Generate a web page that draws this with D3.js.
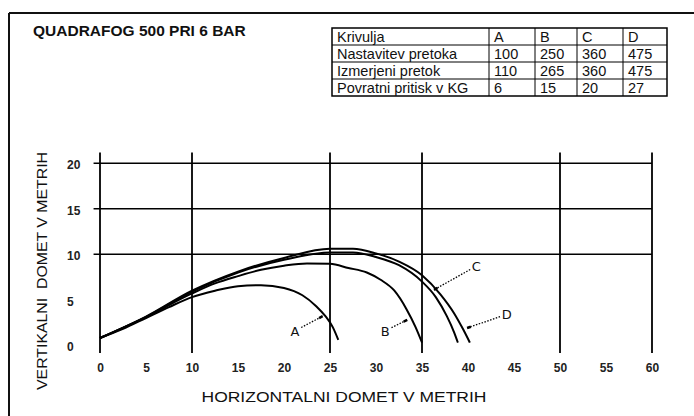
<!DOCTYPE html>
<html>
<head>
<meta charset="utf-8">
<script src="https://cdn.jsdelivr.net/npm/d3@7"></script>
<style>
  html, body { margin: 0; padding: 0; background: #fff; }
  svg { display: block; font-family: "Liberation Sans", Arial, sans-serif; }
</style>
</head>
<body>
<div id="chart"></div>
<script>
// table data
var krivulje = ['A', 'B', 'C', 'D'];
var nastavitev = [100, 250, 360, 475];
var izmerjeni = [110, 265, 360, 475];
var povratni = [6, 15, 20, 27];

// grid and ticks
var xTicks = [0, 5, 10, 15, 20, 25, 30, 35, 40, 45, 50, 55, 60];
var yTicks = [0, 5, 10, 15, 20];
var xGrid = [0, 10, 25, 35, 50, 60];
var yGrid = [10, 15, 20];

// curves: [horizontal m, vertical m]
var curveA = [[0, 0.8], [2.5, 1.8], [5, 3.0], [7.5, 4.2], [10, 5.3], [12.5, 6.0], [15, 6.5], [17.5, 6.6],
    [20, 6.3], [22, 5.5], [23.5, 4.3], [24.5, 3.2], [25.3, 2.0], [25.9, 0.6]];
var curveB = [[0, 0.8], [5, 3.1], [10, 5.7], [12.5, 6.8], [15, 7.6], [17.5, 8.3], [20, 8.75], [22.5, 9.0],
    [25, 8.95], [27, 8.5], [29, 8.0], [30.5, 7.2], [32, 6.0], [33.3, 4.0], [34.3, 2.0], [35, 0.3]];
var curveC = [[0, 0.8], [5, 3.1], [10, 5.9], [15, 8.0], [20, 9.4], [25, 10.2], [27.5, 10.2], [30, 9.7],
    [32.5, 8.8], [35, 7.0], [36.5, 5.3], [37.7, 3.2], [38.5, 1.4], [38.9, 0.3]];
var curveD = [[0, 0.8], [5, 3.15], [10, 6.0], [15, 8.1], [20, 9.6], [25, 10.6], [27.5, 10.6], [30, 10.1],
    [32.5, 9.2], [35, 7.7], [37, 5.6], [38.5, 3.5], [39.5, 1.7], [40.2, 0.3]];

// curve labels: letter position and the point the leader touches
var labelNames = ['A', 'B', 'C', 'D'];
var labelText = [[21.2, 1.6], [31.0, 1.6], [40.9, 8.7], [44.2, 3.4]];
var labelTip = [[24.2, 3.2], [33.4, 2.8], [36.3, 6.1], [39.9, 1.9]];

var w = 694,
    h = 416;

var svg = d3.select('#chart')
    .append('svg')
    .attr('width', w)
    .attr('height', h);

// frame (top and left only)
svg.append('line')
    .attr('x1', 9).attr('x2', w).attr('y1', 13).attr('y2', 13)
    .attr('stroke', '#111').attr('stroke-width', 2);
svg.append('line')
    .attr('x1', 9).attr('x2', 9).attr('y1', 13).attr('y2', h)
    .attr('stroke', '#111').attr('stroke-width', 2);

svg.append('text')
    .attr('x', 33)
    .attr('y', 36)
    .style('font-size', '15.5px')
    .style('font-weight', 'bold')
    .attr('fill', '#111')
    .text('QUADRAFOG 500 PRI 6 BAR');

// table
var colX = [332, 489, 535, 577, 623, 667];
var rowY = [28, 45, 62, 79, 96];
var rows = [['Krivulja'].concat(krivulje),
    ['Nastavitev pretoka'].concat(nastavitev),
    ['Izmerjeni pretok'].concat(izmerjeni),
    ['Povratni pritisk v KG'].concat(povratni)];

var tbl = svg.append('g').attr('class', 'table');
tbl.append('rect')
    .attr('x', colX[0]).attr('y', rowY[0])
    .attr('width', colX[5] - colX[0]).attr('height', rowY[4] - rowY[0])
    .attr('fill', 'none').attr('stroke', '#000').attr('stroke-width', 1.5);
rowY.slice(1, 4).forEach(function (y) {
    tbl.append('line').attr('x1', colX[0]).attr('x2', colX[5]).attr('y1', y).attr('y2', y)
        .attr('stroke', '#000').attr('stroke-width', 1);
});
colX.slice(1, 5).forEach(function (x) {
    tbl.append('line').attr('x1', x).attr('x2', x).attr('y1', rowY[0]).attr('y2', rowY[4])
        .attr('stroke', '#000').attr('stroke-width', 1);
});
rows.forEach(function (r, i) {
    r.forEach(function (cell, j) {
        tbl.append('text')
            .attr('x', colX[j] + 5)
            .attr('y', rowY[i] + 13.5)
            .style('font-size', '14.5px')
            .attr('fill', '#111')
            .text(cell);
    });
});

// chart
var x = d3.scaleLinear().domain([0, 60]).range([100, 652]),
    y = d3.scaleLinear().domain([0, 20]).range([345.3, 163.3]);

var grid = svg.append('g').attr('class', 'grid');
grid.selectAll('.vline')
    .data(xGrid)
    .enter().append('line')
    .attr('class', 'vline')
    .attr('x1', function (d) { return x(d); })
    .attr('x2', function (d) { return x(d); })
    .attr('y1', y(21.2))
    .attr('y2', y(-0.85))
    .attr('stroke', '#000').attr('stroke-width', 1.8);

grid.selectAll('.hline')
    .data(yGrid)
    .enter().append('line')
    .attr('class', 'hline')
    .attr('x1', x(-0.7))
    .attr('x2', x(60))
    .attr('y1', function (d) { return y(d); })
    .attr('y2', function (d) { return y(d); })
    .attr('stroke', '#000').attr('stroke-width', 1.6);

var xAxis = svg.append('g')
    .attr('transform', 'translate(0,' + (y(0) + 18) + ')')
    .call(d3.axisBottom(x).tickValues(xTicks).tickSize(0).tickPadding(0));
var yAxis = svg.append('g')
    .attr('transform', 'translate(67,0)')
    .call(d3.axisRight(y).tickValues(yTicks).tickSize(0).tickPadding(0));

[xAxis, yAxis].forEach(function (a) {
    a.select('.domain').remove();
    a.selectAll('text')
        .style('font-size', '12px')
        .style('font-weight', 'bold')
        .style('font-family', '"Liberation Sans", sans-serif')
        .attr('fill', '#222');
});
yAxis.selectAll('text').attr('dy', '0.45em');

// axis titles
svg.append('text')
    .attr('transform', 'translate(47,271) rotate(-90)')
    .attr('text-anchor', 'middle')
    .attr('textLength', 238)
    .attr('lengthAdjust', 'spacingAndGlyphs')
    .style('font-size', '15.5px')
    .attr('fill', '#111')
    .attr('xml:space', 'preserve')
    .text('VERTIKALNI  DOMET V METRIH');

svg.append('text')
    .attr('x', 344)
    .attr('y', 402)
    .attr('text-anchor', 'middle')
    .attr('textLength', 285)
    .attr('lengthAdjust', 'spacingAndGlyphs')
    .style('font-size', '15.5px')
    .attr('fill', '#111')
    .text('HORIZONTALNI DOMET V METRIH');

// curves
var line = d3.line()
    .curve(d3.curveMonotoneX)
    .x(function (d) { return x(d[0]); })
    .y(function (d) { return y(d[1]); });

svg.selectAll('.curve')
    .data([curveA, curveB, curveC, curveD])
    .enter().append('path')
    .attr('class', 'curve')
    .attr('d', line)
    .attr('fill', 'none')
    .attr('stroke', '#000')
    .attr('stroke-width', 2);

// curve labels with dotted leaders
labelNames.forEach(function (name, i) {
    var t = labelText[i], p = labelTip[i];
    var tx = x(t[0]), ty = y(t[1]), px = x(p[0]), py = y(p[1]);
    var dx = px - tx, dy = py - ty, len = Math.sqrt(dx * dx + dy * dy);
    var ux = dx / len, uy = dy / len;
    svg.append('line')
        .attr('x1', tx + ux * 7).attr('y1', ty + uy * 7)
        .attr('x2', px).attr('y2', py)
        .attr('stroke', '#000').attr('stroke-width', 1.3)
        .attr('stroke-dasharray', '1.5,1.5');
    svg.append('line')
        .attr('x1', px - ux * 4).attr('y1', py - uy * 4)
        .attr('x2', px).attr('y2', py)
        .attr('stroke', '#000').attr('stroke-width', 2.5);
    svg.append('text')
        .attr('x', tx).attr('y', ty)
        .attr('dy', '0.38em')
        .attr('text-anchor', 'middle')
        .style('font-size', '13px')
        .style('font-family', '"DejaVu Sans", sans-serif')
        .attr('fill', '#111')
        .text(name);
});
</script>
</body>
</html>
